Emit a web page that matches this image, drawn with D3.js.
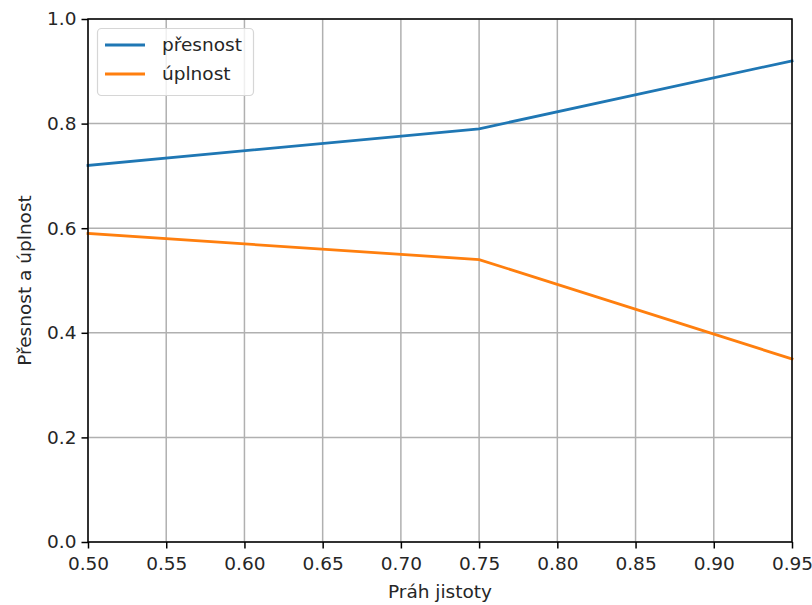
<!DOCTYPE html>
<html><head><meta charset="utf-8">
<script src="https://cdn.jsdelivr.net/npm/d3@7"></script>
<style>
body{margin:0;background:#fff;}
text{font-family:"DejaVu Sans",sans-serif;fill:#262626;}
</style></head>
<body><svg id="c" width="812" height="605"></svg>
<script>
const thresholds = [0.50, 0.75, 0.95];
const precision = [0.72, 0.79, 0.92];
const recall = [0.59, 0.54, 0.35];
const xTicks = [0.50,0.55,0.60,0.65,0.70,0.75,0.80,0.85,0.90,0.95];
const yTicks = [0.0,0.2,0.4,0.6,0.8,1.0];
const seriesNames = ["přesnost","úplnost"];
const colors = ["#1f77b4","#ff7f0e"];
const xLabel = "Práh jistoty";
const yLabel = "Přesnost a úplnost";

const fs = 18.5;
const m = {l:88, r:792, t:19, b:542};
const svg = d3.select("#c");
const x = d3.scaleLinear().domain([0.5,0.95]).range([m.l,m.r]);
const y = d3.scaleLinear().domain([0,1]).range([m.b,m.t]);

// grid
const g = svg.append("g");
g.selectAll(".gx").data(xTicks).enter().append("line")
  .attr("x1",d=>x(d)).attr("x2",d=>x(d)).attr("y1",m.t).attr("y2",m.b)
  .attr("stroke","#b0b0b0").attr("stroke-width",1.5);
g.selectAll(".gy").data(yTicks).enter().append("line")
  .attr("x1",m.l).attr("x2",m.r).attr("y1",d=>y(d)).attr("y2",d=>y(d))
  .attr("stroke","#b0b0b0").attr("stroke-width",1.5);

// lines
const series = [precision, recall];
const line = d3.line().x((d,i)=>x(thresholds[i])).y(d=>y(d));
series.forEach((s,k)=>{
  svg.append("path").datum(s).attr("d",line).attr("fill","none")
    .attr("stroke",colors[k]).attr("stroke-width",2.8).attr("stroke-linecap","square");
});

// axes
const xAxis = d3.axisBottom(x).tickValues(xTicks).tickFormat(d3.format(".2f")).tickSize(6.5).tickPadding(5);
const yAxis = d3.axisLeft(y).tickValues(yTicks).tickFormat(d3.format(".1f")).tickSize(6.5).tickPadding(5);
const ax = svg.append("g").attr("transform",`translate(0,${m.b})`).call(xAxis);
const ay = svg.append("g").attr("transform",`translate(${m.l},0)`).call(yAxis);
[ax,ay].forEach(a=>{
  a.select(".domain").remove();
  a.selectAll("line").attr("stroke","#000").attr("stroke-width",1.5);
  a.selectAll("text").attr("font-size",fs).attr("font-family","DejaVu Sans").attr("fill","#262626");
});
ax.selectAll("text").attr("dy","0.9em");
// spines
svg.append("rect").attr("x",m.l).attr("y",m.t).attr("width",m.r-m.l).attr("height",m.b-m.t)
  .attr("fill","none").attr("stroke","#000").attr("stroke-width",1.5);

// labels
svg.append("text").attr("x",(m.l+m.r)/2).attr("y",598).attr("text-anchor","middle")
  .attr("font-size",fs).text(xLabel);
svg.append("text").attr("transform",`translate(31,${(m.t+m.b)/2}) rotate(-90)`)
  .attr("text-anchor","middle").attr("font-size",fs).text(yLabel);

// legend
const lg = svg.append("g");
lg.append("rect").attr("x",97.5).attr("y",28.5).attr("width",156).attr("height",67).attr("rx",4)
  .attr("fill","#fff").attr("fill-opacity",0.8).attr("stroke","#d6d6d6").attr("stroke-width",1.2);
seriesNames.forEach((n,i)=>{
  const yy = 45 + i*29;
  lg.append("line").attr("x1",105).attr("x2",145).attr("y1",yy).attr("y2",yy)
    .attr("stroke",colors[i]).attr("stroke-width",2.8);
  lg.append("text").attr("x",162).attr("y",yy).attr("dy","0.35em").attr("font-size",fs).text(n);
});
</script></body></html>
